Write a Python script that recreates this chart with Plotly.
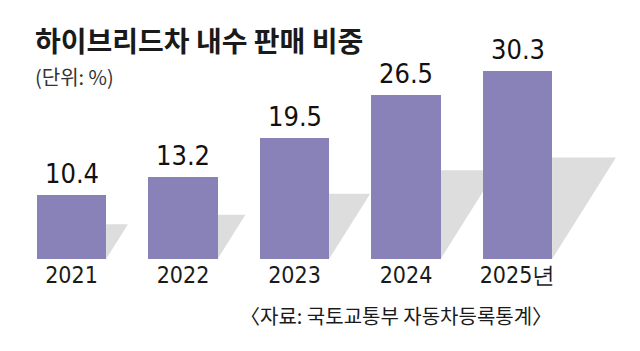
import plotly.graph_objects as go

years = ["2021", "2022", "2023", "2024", "2025년"]
values = [10.4, 13.2, 19.5, 26.5, 30.3]
value_labels = ["10.4", "13.2", "19.5", "26.5", "30.3"]

title = "하이브리드차 내수 판매 비중"
unit = "(단위: %)"
source = "〈자료: 국토교통부 자동차등록통계〉"

BAR = "#8882b8"
SHADOW = "#dddddd"
TXT = "#1a1a1a"
NUMFONT = "DejaVu Sans Condensed, Liberation Sans Narrow, Liberation Sans, sans-serif"

W, H = 640, 351
mb = 92
PH = H - mb
px_per_x = 111.5
px_per_y = 6.2
bar_w = 0.62
xr0 = -71.5 / px_per_x
xr1 = xr0 + W / px_per_x
ytop = PH / px_per_y

idx = list(range(len(years)))

fig = go.Figure()
fig.add_trace(go.Bar(
    x=idx, y=values, width=bar_w, marker=dict(color=BAR, line=dict(width=0)),
    hoverinfo="skip",
))

shapes = []
for i, v in zip(idx, values):
    xr = i + bar_w / 2
    h = 0.54 * v
    dx = 0.63 * h * px_per_y / px_per_x
    shapes.append(dict(
        type="path", xref="x", yref="y", layer="below",
        path=f"M {xr},0 L {xr},{h} L {xr+dx},{h} Z",
        fillcolor=SHADOW, line=dict(width=0),
    ))

annotations = []
for i, v, t in zip(idx, values, value_labels):
    annotations.append(dict(
        text=t, x=i, y=v, xref="x", yref="y", xanchor="center", yanchor="bottom",
        yshift=4, showarrow=False,
        font=dict(family=NUMFONT, size=27, color="#111111"),
    ))

annotations += [
    dict(text=f"<b>{title}</b>", xref="paper", yref="paper", x=33 / W, y=1 - 40 / PH,
         xanchor="left", yanchor="middle", showarrow=False,
         font=dict(family="Noto Sans CJK KR", size=28, color=TXT)),
    dict(text=unit, xref="paper", yref="paper", x=33 / W, y=1 - 76 / PH,
         xanchor="left", yanchor="middle", showarrow=False,
         font=dict(family="Noto Sans CJK KR", size=20, color="#333333")),
    dict(text=source, xref="paper", yref="paper", x=554 / W, y=-(315 - PH) / PH,
         xanchor="right", yanchor="middle", showarrow=False,
         font=dict(family="Noto Sans CJK KR", size=20, color=TXT)),
]

fig.update_layout(
    width=W, height=H,
    margin=dict(l=0, r=0, t=0, b=mb),
    paper_bgcolor="white", plot_bgcolor="white",
    showlegend=False,
    shapes=shapes,
    annotations=annotations,
    xaxis=dict(range=[xr0, xr1], tickvals=idx, ticktext=years, showgrid=False,
               zeroline=False, showline=False, ticks="",
               tickfont=dict(family=NUMFONT, size=23, color=TXT),
               fixedrange=True),
    yaxis=dict(range=[0, ytop], visible=False, fixedrange=True),
    bargap=0,
)

fig.write_html("out.html")
